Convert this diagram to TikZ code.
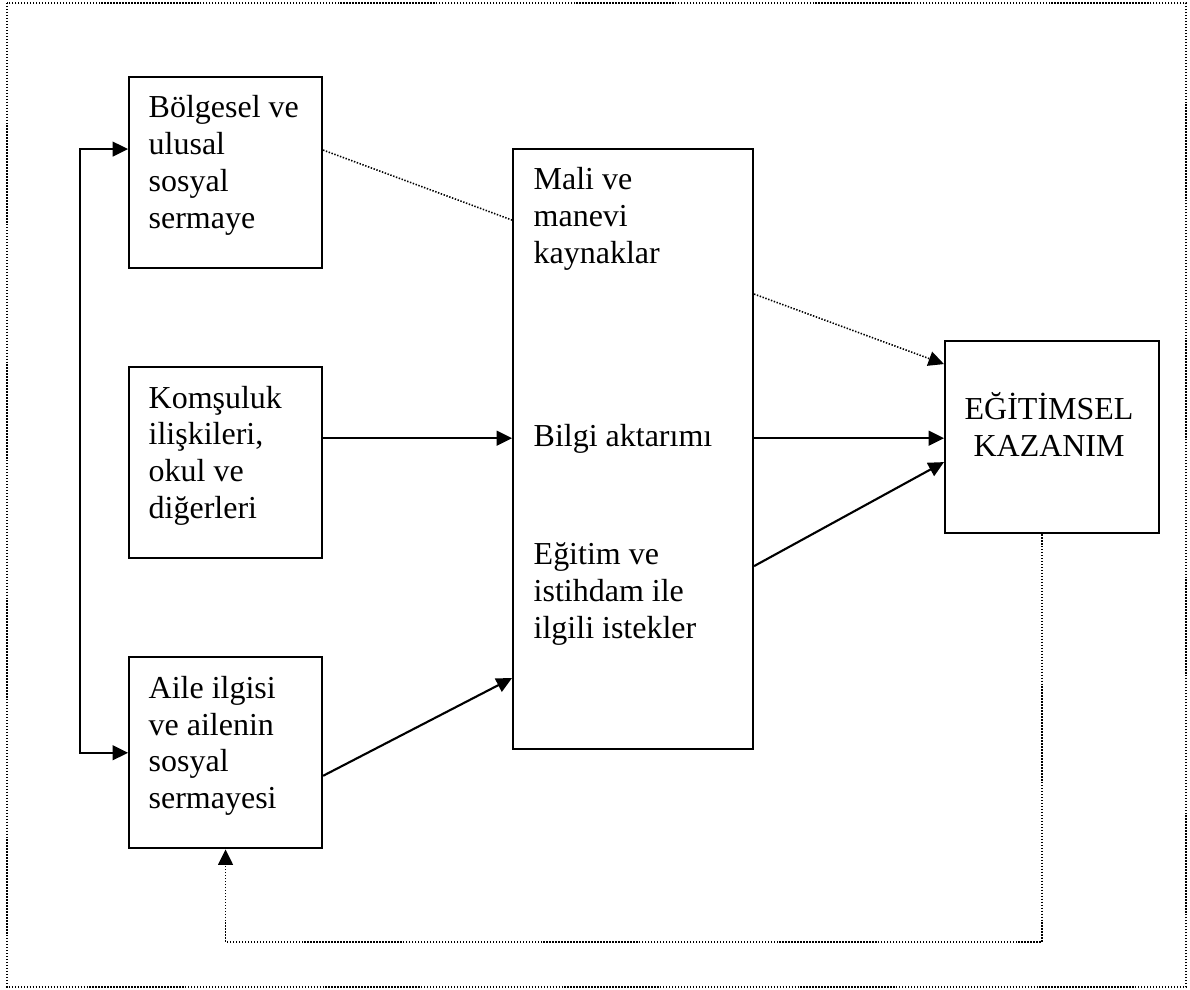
\documentclass[tikz,border=0pt]{standalone}
\usepackage{fontspec}
\setmainfont{Liberation Serif}
\usetikzlibrary{arrows.meta, positioning}
\tikzset{
  %% ---- boxes ----
  box/.style  = {rectangle, draw=black, line width=0.6pt,
                 anchor=north west, inner sep=0pt,
                 minimum width=#1, minimum height=1.91cm},
  box/.default = 1.93cm,
  txt/.style  = {inner sep=0pt, align=left, anchor=north west,
                 font=\fontsize{9.1}{10.5}\selectfont},
  %% ---- arrows ----
  arrow/.style    = {-{Triangle[length=4.4pt,width=4.2pt]}, line width=0.6pt},
  dblarrow/.style = {{Triangle[length=4.4pt,width=4.2pt]}-{Triangle[length=4.4pt,width=4.2pt]},
                     line width=0.6pt},
  dotline/.style  = {line width=0.45pt, dash pattern=on 0.4pt off 0.45pt},
  dotarrow/.style = {dotline, -{Triangle[length=4.4pt,width=4.2pt]}},
}

\begin{document}
\begin{tikzpicture}[node distance=0.97cm]
\useasboundingbox (0,0) rectangle (11.9,-9.89);
\draw[dotline] (0.07,-0.03) rectangle (11.86,-9.87);

%% boxes
\node[box] (bolge) at (1.28,-0.76) {};
\node[box, below=of bolge] (komsu) {};
\node[box, below=of komsu] (aile) {};
\node[box=2.40cm, minimum height=6.00cm] (kaynak) at (5.12,-1.48) {};
\node[box=2.14cm, minimum height=1.92cm] (kazanim) at (9.44,-3.40) {};

%% texts
\node[txt] (bolge-t) at ([shift={(0.20,-0.19)}]bolge.north west) {Bölgesel ve\\ulusal\\sosyal\\sermaye};
\node[txt] (komsu-t) at ([shift={(0.20,-0.19)}]komsu.north west) {Komşuluk\\ilişkileri,\\okul ve\\diğerleri};
\node[txt] (aile-t)  at ([shift={(0.20,-0.19)}]aile.north west) {Aile ilgisi\\ve ailenin\\sosyal\\sermayesi};
\node[txt] (kaynak-t) at ([shift={(0.21,-0.19)}]kaynak.north west)
  {Mali ve\\manevi\\kaynaklar\\[1.46cm]Bilgi aktarımı\\[0.81cm]Eğitim ve\\istihdam ile\\ilgili istekler};
\node[txt, align=center, anchor=north] (kazanim-t) at ([shift={(-0.03,-0.52)}]kazanim.north) {EĞİTİMSEL\\KAZANIM};

%% connectors
\coordinate (bilgi) at ([yshift=2.45mm]komsu.east);
\draw[dblarrow] ([yshift=2.35mm]bolge.west) -- ++(-0.48,0) |- (aile.west);
\draw[dotline]  ([yshift=2.25mm]bolge.east) -- ([yshift=22.9mm]kaynak.west);
\draw[dotarrow] ([yshift=15.5mm]kaynak.east) -- ([yshift=7.3mm]kazanim.west);
\draw[arrow] (bilgi) -- (bilgi -| kaynak.west);
\draw[arrow] (bilgi -| kaynak.east) -- (bilgi -| kazanim.west);
\draw[arrow] ([yshift=-11.7mm]kaynak.east) -- ([yshift=-2.5mm]kazanim.west);
\draw[arrow] ([yshift=-2.3mm]aile.east) -- ([yshift=-22.9mm]kaynak.west);
\draw[dotarrow] ([xshift=-1mm]kazanim.south) -- ++(0,-4.08) -| (aile.south);
\end{tikzpicture}
\end{document}
